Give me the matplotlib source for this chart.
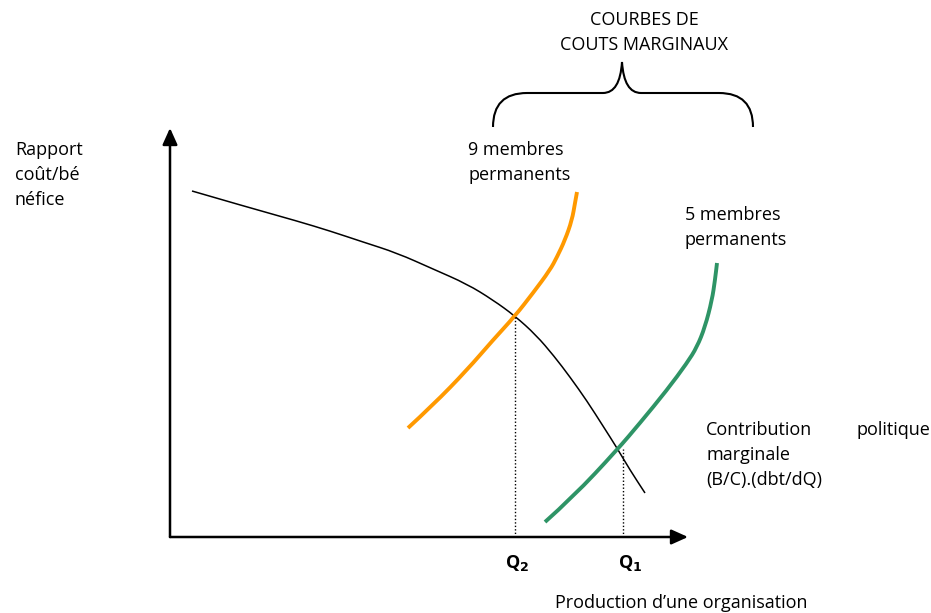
import matplotlib.pyplot as plt
from matplotlib.path import Path
from matplotlib.patches import PathPatch

plt.rcParams['font.family'] = ['Open Sans', 'DejaVu Sans']

# courbe de contribution politique marginale (noire)
contrib_x = [22, 77, 127, 160, 193, 227, 263, 297, 323, 345, 366, 384, 400, 417, 433, 447, 460, 475]
contrib_y = [346, 330, 316, 306, 295, 284, 268, 253, 237, 221, 202, 181, 160, 136, 111, 89, 67, 44]

# cout marginal, 9 membres permanents (orange)
cm9_x = [238, 263, 297, 323, 345, 363, 380, 387, 395, 402, 405, 407]
cm9_y = [109, 132, 167, 197, 221, 244, 267, 280, 297, 317, 334, 345]

# cout marginal, 5 membres permanents (vert)
cm5_x = [375, 403, 447, 470, 497, 517, 527, 535, 542, 545, 547]
cm5_y = [15, 40, 87, 114, 147, 174, 190, 210, 237, 257, 274]

# equilibres
q_labels = ['Q$_\\mathbf{2}$', 'Q$_\\mathbf{1}$']
q_x = [345, 453]
q_y = [221, 88]


def smooth_path(xs, ys):
    # trace lisse passant pres des points lus (b-spline quadratique)
    pts = list(zip(xs, ys))
    verts = [pts[0]]
    codes = [Path.MOVETO]
    for i in range(1, len(pts) - 1):
        mid = ((pts[i][0] + pts[i + 1][0]) / 2, (pts[i][1] + pts[i + 1][1]) / 2)
        verts += [pts[i], mid]
        codes += [Path.CURVE3, Path.CURVE3]
    verts.append(pts[-1])
    codes.append(Path.LINETO)
    return Path(verts, codes)


fig = plt.figure(figsize=(9.31, 6.13), dpi=100)
ax = fig.add_axes([0, 0, 1, 1])
ax.set_xlim(-170, 761)
ax.set_ylim(-76, 537)
ax.axis('off')

# axes avec fleches
head = dict(arrowstyle='-|>,head_length=1.0,head_width=0.45', color='black', lw=1.8, shrinkA=0, shrinkB=0)
ax.annotate('', xy=(518, 0), xytext=(0, 0), arrowprops=head)
ax.annotate('', xy=(0, 409), xytext=(0, 0), arrowprops=head)

ax.add_patch(PathPatch(smooth_path(contrib_x, contrib_y), fc='none', ec='black', lw=1.1))
ax.add_patch(PathPatch(smooth_path(cm9_x, cm9_y), fc='none', ec='#FF9900', lw=2.8, capstyle='butt'))
ax.add_patch(PathPatch(smooth_path(cm5_x, cm5_y), fc='none', ec='#2E9466', lw=2.8, capstyle='butt'))

for x, y in zip(q_x, q_y):
    ax.plot([x, x], [0, y], color='black', lw=1.0, ls=(0, (1, 1.5)))

ax.text(347, -26, q_labels[0], fontsize=13, fontweight='bold', ha='center', va='center')
ax.text(460, -26, q_labels[1], fontsize=13, fontweight='bold', ha='center', va='center')

# accolade
verts = [(323, 410), (323, 444), (357, 444),
         (433, 444), (450, 444), (452, 475),
         (454, 444), (471, 444),
         (549, 444), (583, 444), (583, 410)]
codes = [Path.MOVETO, Path.CURVE3, Path.CURVE3,
         Path.LINETO, Path.CURVE3, Path.CURVE3,
         Path.CURVE3, Path.CURVE3,
         Path.LINETO, Path.CURVE3, Path.CURVE3]
ax.add_patch(PathPatch(Path(verts, codes), facecolor='none', edgecolor='black', lw=1.5))

fs = 13
ax.text(474, 517, 'COURBES DE', fontsize=fs, ha='center', va='center')
ax.text(474, 492, 'COUTS MARGINAUX', fontsize=fs, ha='center', va='center')
ax.text(298, 387, '9 membres', fontsize=fs, ha='left', va='center')
ax.text(298, 362, 'permanents', fontsize=fs, ha='left', va='center')
ax.text(515, 322, '5 membres', fontsize=fs, ha='left', va='center')
ax.text(515, 297, 'permanents', fontsize=fs, ha='left', va='center')
ax.text(-155, 387, 'Rapport', fontsize=fs, ha='left', va='center')
ax.text(-155, 362, 'coût/bé', fontsize=fs, ha='left', va='center')
ax.text(-155, 337, 'néfice', fontsize=fs, ha='left', va='center')
ax.text(536, 107, 'Contribution', fontsize=fs, ha='left', va='center')
ax.text(760, 107, 'politique', fontsize=fs, ha='right', va='center')
ax.text(536, 82, 'marginale', fontsize=fs, ha='left', va='center')
ax.text(536, 57, '(B/C).(dbt/dQ)', fontsize=fs, ha='left', va='center')
ax.text(385, -66, 'Production d\u2019une organisation', fontsize=fs, ha='left', va='center')

fig.savefig('out.png', dpi=100)
